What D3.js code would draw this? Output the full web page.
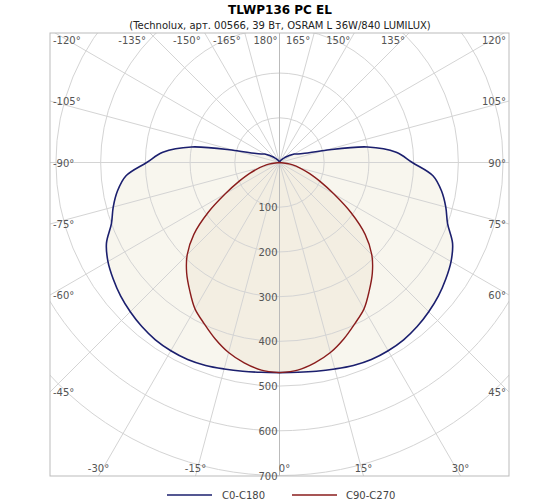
<!DOCTYPE html><html><head><meta charset="utf-8"><script src="https://d3js.org/d3.v7.min.js"></script>
<style>body{margin:0;background:#fff}text{font-family:"DejaVu Sans",sans-serif}</style></head><body><svg id="c" width="560" height="504"></svg>
<script>
const angles = [0,5,10,15,20,25,30,35,40,45,50,55,60,65,70,75,80,85,90,95,100,105,110,115,120,125,130,135,140,150,160,170,180];
const c0c180 = [470,471,474,478,483,486,486,484,479,472,464,454,443,427,400,385,368,345,297,262,200,104,60,45,38,28,20,14,10,5,2,1,0];
const redAngles = [0,5,10,15,20,25,30,35,40,45,50,55,60,65,70,80,90];
const c90c270 = [470,466,455,440,420,398,378,350,323,292,250,195,140,100,71,30,0];
const rTicks = [100,200,300,400,500,600,700];
const aTicks = [-165,-150,-135,-120,-105,-90,-75,-60,-45,-30,-15,0,15,30,45,60,75,90,105,120,135,150,165,180];
const svg=d3.select("#c");
const cx=279.5, cy=162.5, X0=50,X1=509,Y0=33,Y1=476;
const r=d3.scaleLinear().domain([0,700]).range([0,313]);
const pt=(g,v)=>{const a=g*Math.PI/180;return [cx+Math.sin(a)*r(v), cy+Math.cos(a)*r(v)];};
svg.append("text").attr("x",280).attr("y",14).attr("text-anchor","middle").attr("font-weight","bold").attr("font-size",12).text("TLWP136 PC EL");
svg.append("text").attr("x",280).attr("y",29).attr("text-anchor","middle").attr("font-size",10).attr("fill","#222").text("(Technolux, арт. 00566, 39 Вт, OSRAM L 36W/840 LUMILUX)");
svg.append("defs").append("clipPath").attr("id","cl").append("rect").attr("x",X0).attr("y",Y0).attr("width",X1-X0).attr("height",Y1-Y0);
const g=svg.append("g").attr("clip-path","url(#cl)");
const full=(ang,val)=>{const p=[];ang.forEach((a,i)=>p.push(pt(-a,val[i])));for(let i=ang.length-1;i>=0;i--)p.push(pt(ang[i],val[i]));return p;};
const line=d3.line().curve(d3.curveCatmullRomClosed);
const bp=full(angles,c0c180), rp=full(redAngles,c90c270);
g.append("path").attr("d",line(bp)).attr("fill","#f8f6ee");
g.append("path").attr("d",line(rp)).attr("fill","#f3eee2");
rTicks.forEach(v=>g.append("circle").attr("cx",cx).attr("cy",cy).attr("r",r(v)).attr("fill","none").attr("stroke","#d4d4d4"));
aTicks.forEach(a=>{const p=pt(a,1400);g.append("line").attr("x1",cx).attr("y1",cy).attr("x2",p[0]).attr("y2",p[1]).attr("stroke",a%180===0?"#bbb":"#d4d4d4");});
g.append("path").attr("d",line(bp)).attr("fill","none").attr("stroke","#1b1f6e").attr("stroke-width",1.6);
g.append("path").attr("d",line(rp)).attr("fill","none").attr("stroke","#8a1c1c").attr("stroke-width",1.4);
svg.append("rect").attr("x",X0).attr("y",Y0).attr("width",X1-X0).attr("height",Y1-Y0).attr("fill","none").attr("stroke","#bbb");
rTicks.forEach(v=>svg.append("text").attr("x",cx-2).attr("y",cy+r(v)+4).attr("text-anchor","end").attr("font-size",10).attr("fill","#555").text(v));
aTicks.forEach(a=>{const rad=a*Math.PI/180,dx=Math.sin(rad),dy=Math.cos(rad);
  let t=Infinity;if(dx>1e-9)t=Math.min(t,(X1-cx)/dx);if(dx<-1e-9)t=Math.min(t,(X0-cx)/dx);if(dy>1e-9)t=Math.min(t,(Y1-cy)/dy);if(dy<-1e-9)t=Math.min(t,(Y0-cy)/dy);
  let x=cx+dx*t,y=cy+dy*t,anchor,tx,ty;
  if(Math.abs(a)===120){anchor=a<0?"start":"end";tx=a<0?X0+3:X1-3;ty=Y0+11;}
  else if(Math.abs(y-Y0)<1){anchor="end";tx=a===180?x-2:x-4;ty=Y0+11;}
  else if(Math.abs(y-Y1)<1){anchor="middle";tx=x+(a===0?5:0);ty=Y1-4;}
  else if(x<cx){anchor="start";tx=X0+3;ty=y+4;}
  else {anchor="end";tx=X1-3;ty=y+4;}
  svg.append("text").attr("x",tx).attr("y",ty).attr("text-anchor",anchor).attr("font-size",10).attr("fill","#555").text((a===180?"180":a)+"°");});
svg.append("line").attr("x1",167).attr("x2",212).attr("y1",495).attr("y2",495).attr("stroke","#1b1f6e").attr("stroke-width",1.6);
svg.append("text").attr("x",222).attr("y",499).attr("font-size",10).attr("fill","#444").text("C0-C180");
svg.append("line").attr("x1",292).attr("x2",337).attr("y1",495).attr("y2",495).attr("stroke","#8a1c1c").attr("stroke-width",1.6);
svg.append("text").attr("x",346).attr("y",499).attr("font-size",10).attr("fill","#444").text("C90-C270");
</script></body></html>
